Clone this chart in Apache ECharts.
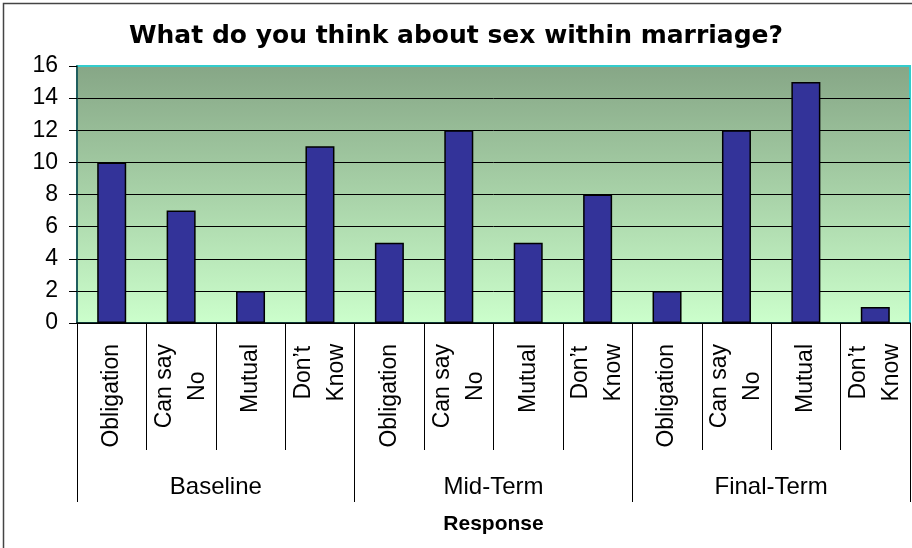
<!DOCTYPE html>
<html>
<head>
<meta charset="utf-8">
<script src="https://cdn.jsdelivr.net/npm/echarts@6/dist/echarts.min.js"></script>
<style>
html,body{margin:0;padding:0;background:#fff;}
#chart{width:912px;height:548px;}
</style>
</head>
<body>
<div id="chart"></div>
<script>
const titleText = 'What do you think about sex within marriage?';
const responses = ['Obligation', 'Can say\nNo', 'Mutual', "Don\u2019t\nKnow"];
const groups = ['Baseline', 'Mid-Term', 'Final-Term'];
const baselineValues = [10, 7, 2, 11];
const midTermValues = [5, 12, 5, 8];
const finalTermValues = [2, 12, 15, 1];
const yTicks = [0, 2, 4, 6, 8, 10, 12, 14, 16];
const axisTitle = 'Response';

const categories = [];
groups.forEach(() => responses.forEach(r => categories.push(r)));
const values = [].concat(baselineValues, midTermValues, finalTermValues);

const FONT = '"Liberation Sans", Arial, sans-serif';
const chart = echarts.init(document.getElementById('chart'), null, {renderer: 'canvas'});

const splitColors = yTicks.map((t, i) => i === yTicks.length - 1 ? '#33cccc' : '#000000');

chart.setOption({
  animation: false,
  backgroundColor: '#ffffff',
  title: {
    text: titleText,
    left: 'center',
    top: 19,
    textStyle: {fontFamily: '"DejaVu Sans", sans-serif', fontWeight: 'bold', fontSize: 25, color: '#000'}
  },
  graphic: [{
    type: 'rect',
    shape: {x: 3.5, y: 3.5, width: 930, height: 560},
    style: {fill: 'none', stroke: '#444', lineWidth: 1.5},
    silent: true,
    z: 100
  }],
  grid: {
    left: 77, right: 2, top: 66, bottom: 225,
    show: true,
    borderColor: '#33cccc',
    borderWidth: 2,
    backgroundColor: new echarts.graphic.LinearGradient(0, 0, 0, 1, [
      {offset: 0, color: '#86a686'},
      {offset: 0.5, color: '#a8d2a8'},
      {offset: 1, color: '#ccffcc'}
    ])
  },
  xAxis: [{
    type: 'category',
    data: categories,
    position: 'bottom',
    axisLine: {show: true, lineStyle: {color: '#000', width: 1.5}},
    axisTick: {show: true, interval: 0, length: 127, lineStyle: {color: '#000', width: 1}},
    axisLabel: {
      interval: 0,
      rotate: 90,
      margin: 21,
      fontFamily: FONT,
      fontSize: 23,
      color: '#000',
      formatter: v => v.split('\n').map(s => '{c|' + s + '}').join('\n'),
      rich: {c: {align: 'center', fontFamily: FONT, fontSize: 23, lineHeight: 33, color: '#000'}}
    },
    splitLine: {show: false}
  }, {
    type: 'category',
    data: groups,
    position: 'bottom',
    axisLine: {show: false},
    axisTick: {show: true, interval: 0, length: 179, lineStyle: {color: '#000', width: 1}},
    axisLabel: {interval: 0, margin: 152, fontFamily: FONT, fontSize: 24, color: '#000'},
    name: axisTitle,
    nameLocation: 'middle',
    nameGap: 191,
    nameTextStyle: {fontFamily: FONT, fontWeight: 'bold', fontSize: 21, color: '#000'},
    splitLine: {show: false}
  }],
  yAxis: {
    type: 'value',
    min: yTicks[0],
    max: yTicks[yTicks.length - 1],
    interval: yTicks[1] - yTicks[0],
    axisLine: {show: true, lineStyle: {color: '#1a3a3a', width: 1.5}},
    axisTick: {show: true, length: 8, lineStyle: {color: '#000'}},
    axisLabel: {margin: 19, fontFamily: FONT, fontSize: 23, color: '#000'},
    splitLine: {show: true, lineStyle: {color: splitColors, width: 1}}
  },
  series: [{
    type: 'bar',
    xAxisIndex: 0,
    data: values,
    barWidth: 29,
    itemStyle: {color: '#333399', borderColor: '#000', borderWidth: 1.5}
  }]
});
</script>
</body>
</html>
